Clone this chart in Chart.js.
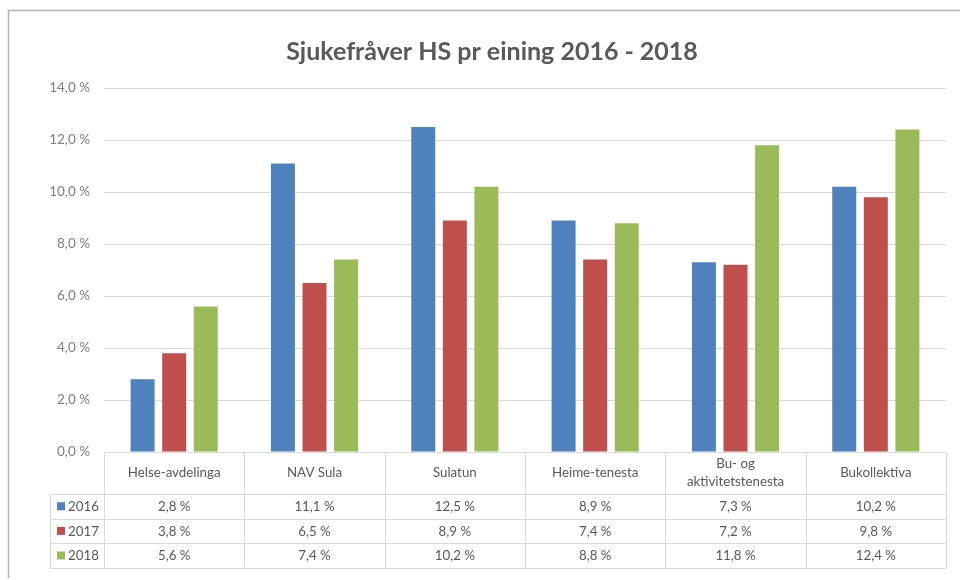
<!DOCTYPE html>
<html>
<head>
<meta charset="utf-8">
<script src="https://cdn.jsdelivr.net/npm/chart.js@4.4.1/dist/chart.umd.min.js"></script>
<style>
  html, body { margin: 0; padding: 0; background: #fff; }
  #wrap { width: 960px; height: 580px; position: relative; }
</style>
</head>
<body>
<div id="wrap"><canvas id="chart" width="960" height="580"></canvas></div>
<script>
const categories = ["Helse-avdelinga", "NAV Sula", "Sulatun", "Heime-tenesta", ["Bu- og", "aktivitetstenesta"], "Bukollektiva"];
const years = ["2016", "2017", "2018"];
const values2016 = [2.8, 11.1, 12.5, 8.9, 7.3, 10.2];
const values2017 = [3.8, 6.5, 8.9, 7.4, 7.2, 9.8];
const values2018 = [5.6, 7.4, 10.2, 8.8, 11.8, 12.4];
const colors = ["#4f81bd", "#c0504d", "#9bbb59"];

const FONT = "Lato, 'Open Sans', sans-serif";
const lineColor = "#d9d9d9";
const textColor = "#595959";

function pct(v) {
  return v.toFixed(1).replace(".", ",") + " %";
}

// frame round the chart, like the pasted Excel object
const framePlugin = {
  id: "frame",
  beforeDraw(chart) {
    const ctx = chart.ctx;
    ctx.save();
    ctx.strokeStyle = "#b4b4b4";
    ctx.lineWidth = 1.5;
    ctx.beginPath();
    ctx.moveTo(8.5, 578);
    ctx.lineTo(8.5, 10.5);
    ctx.lineTo(960, 10.5);
    ctx.stroke();
    ctx.restore();
  }
};

// data table under the plot, aligned with the category scale
const tablePlugin = {
  id: "dataTable",
  afterDraw(chart) {
    const ctx = chart.ctx;
    const area = chart.chartArea;
    const xs = chart.scales.x;
    const n = categories.length;
    const catW = (area.right - area.left) / n;
    const top = area.bottom;
    const headBottom = top + 42;
    const rowH = 24.6;
    const tableLeft = 50;
    const rowsBottom = headBottom + rowH * years.length;
    const series = [values2016, values2017, values2018];

    ctx.save();
    ctx.strokeStyle = lineColor;
    ctx.lineWidth = 1;

    // vertical lines
    ctx.beginPath();
    for (let i = 0; i <= n; i++) {
      const x = Math.round(area.left + catW * i) + 0.5;
      ctx.moveTo(x, top);
      ctx.lineTo(x, rowsBottom);
    }
    ctx.moveTo(tableLeft + 0.5, headBottom);
    ctx.lineTo(tableLeft + 0.5, rowsBottom);
    // horizontal lines
    for (let r = 0; r <= years.length; r++) {
      const y = Math.round(headBottom + rowH * r) + 0.5;
      ctx.moveTo(tableLeft, y);
      ctx.lineTo(area.right, y);
    }
    ctx.stroke();

    ctx.fillStyle = textColor;
    ctx.textAlign = "center";
    ctx.textBaseline = "middle";
    ctx.font = "13.3px " + FONT;
    categories.forEach(function (c, i) {
      const cx = xs.getPixelForValue(i);
      const mid = (top + headBottom) / 2;
      if (Array.isArray(c)) {
        ctx.fillText(c[0], cx, mid - 9);
        ctx.fillText(c[1], cx, mid + 9);
      } else {
        ctx.fillText(c, cx, mid);
      }
    });

    ctx.font = "13.3px " + FONT;
    years.forEach(function (yr, r) {
      const cy = headBottom + rowH * r + rowH / 2;
      ctx.fillStyle = colors[r];
      ctx.fillRect(tableLeft + 7, cy - 4, 8, 8);
      ctx.fillStyle = textColor;
      ctx.textAlign = "left";
      ctx.fillText(yr, tableLeft + 18, cy + 0.5);
      ctx.textAlign = "center";
      series[r].forEach(function (v, i) {
        ctx.fillText(pct(v), xs.getPixelForValue(i), cy + 0.5);
      });
    });
    ctx.restore();
  }
};

new Chart(document.getElementById("chart"), {
  type: "bar",
  data: {
    labels: categories,
    datasets: [
      { label: years[0], data: values2016, backgroundColor: colors[0] },
      { label: years[1], data: values2017, backgroundColor: colors[1] },
      { label: years[2], data: values2018, backgroundColor: colors[2] }
    ]
  },
  options: {
    responsive: false,
    animation: false,
    categoryPercentage: 0.675,
    barPercentage: 0.76,
    layout: { padding: { left: 38, right: 14, top: 10, bottom: 128 } },
    plugins: {
      legend: { display: false },
      tooltip: { enabled: false },
      title: {
        display: true,
        text: "Sjukefråver HS pr eining 2016 - 2018",
        color: textColor,
        font: { family: FONT, size: 25, weight: "bold" },
        padding: { top: 27, bottom: 21 }
      }
    },
    scales: {
      x: { display: false },
      y: {
        min: 0,
        max: 14,
        afterFit(scale) { scale.width = 66; },
        border: { display: false },
        grid: { color: lineColor, drawTicks: false },
        ticks: {
          stepSize: 2,
          padding: 14,
          color: "#7f7f7f",
          font: { family: FONT, size: 13.5 },
          callback: function (v) { return pct(v); }
        }
      }
    }
  },
  plugins: [framePlugin, tablePlugin]
});
</script>
</body>
</html>
